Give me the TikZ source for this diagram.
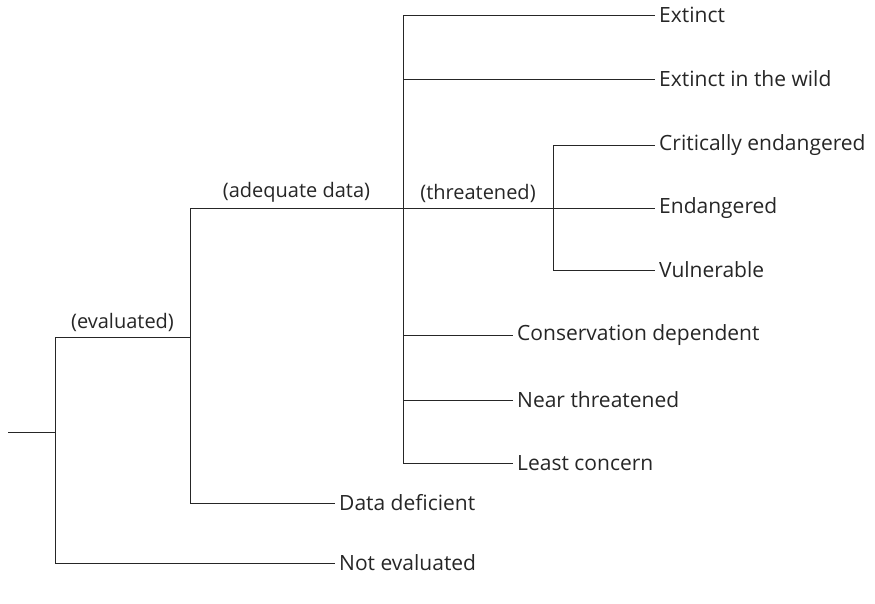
\documentclass[tikz,border=0pt]{standalone}
\usepackage{fontspec}
\setmainfont{Open Sans}
\begin{document}
\begin{tikzpicture}[x=1pt,y=-1pt,
  branch/.style={draw=black!85,line width=0.9pt},
  leaf/.style={anchor=west,inner xsep=4pt,inner ysep=0pt,font=\fontsize{21}{24}\selectfont,text=black!85},
  tag/.style={anchor=south,inner sep=0pt,font=\fontsize{20}{24}\selectfont,text=black!85}]
\useasboundingbox (0,0) rectangle (875,603);
% junction coordinates
\coordinate (root) at (8,432);
\coordinate (j0t) at (55,337);
\coordinate (j0b) at (55,563);
\coordinate (j0m) at (55,432);
\coordinate (j1t) at (190,208);
\coordinate (j1m) at (190,337);
\coordinate (j1b) at (190,503);
\coordinate (j2t) at (403,15);
\coordinate (j2m) at (403,208);
\coordinate (j2b) at (403,463);
\coordinate (j2a) at (403,79);
\coordinate (j2c) at (403,335);
\coordinate (j2d) at (403,400);
\coordinate (j3t) at (553,145);
\coordinate (j3m) at (553,208);
\coordinate (j3b) at (553,270);
% leaves
\node[leaf] (ne) at (335,563) {Not evaluated};
\node[leaf] (dd) at (335,503) {Data deficient};
\node[leaf] (ex) at (655,15) {Extinct};
\node[leaf] (ew) at (655,79) {Extinct in the wild};
\node[leaf] (cr) at (655,145) {Critically endangered};
\node[leaf] (en) at (655,208) {Endangered};
\node[leaf] (vu) at (655,270) {Vulnerable};
\node[leaf] (cd) at (513,335) {Conservation dependent};
\node[leaf] (nt) at (513,400) {Near threatened};
\node[leaf] (lc) at (513,463) {Least concern};
% branches
\draw[branch] (root) -- (j0m);
\draw[branch] (j0t) -- (j0b);
\draw[branch] (j0b) -- (ne.west);
\draw[branch] (j0t) -- node[tag,above=5pt] (evl) {(evaluated)} (j1m);
\draw[branch] (j1t) -- (j1b);
\draw[branch] (j1b) -- (dd.west);
\draw[branch] (j1t) -- node[tag,above=5pt] (adq) {(adequate data)} (j2m);
\draw[branch] (j2t) -- (j2b);
\draw[branch] (j2t) -- (ex.west);
\draw[branch] (j2a) -- (ew.west);
\draw[branch] (j2m) -- node[tag,above=5pt] (thr) {(threatened)} (j3m);
\draw[branch] (j3t) -- (j3b);
\draw[branch] (j3t) -- (cr.west);
\draw[branch] (j3m) -- (en.west);
\draw[branch] (j3b) -- (vu.west);
\draw[branch] (j2c) -- (cd.west);
\draw[branch] (j2d) -- (nt.west);
\draw[branch] (j2b) -- (lc.west);
\end{tikzpicture}
\end{document}
